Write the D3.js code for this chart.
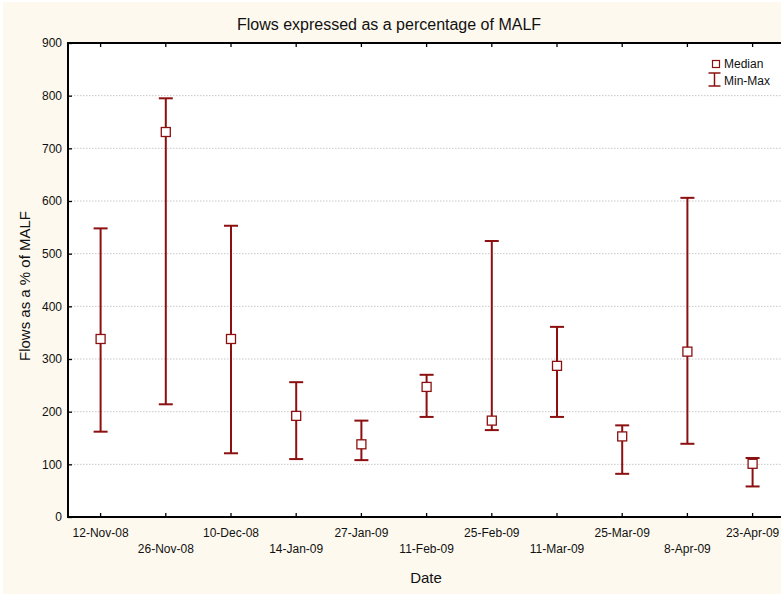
<!DOCTYPE html>
<html><head><meta charset="utf-8">
<script src="https://cdn.jsdelivr.net/npm/d3@7"></script>
<style>body{margin:0;background:#fff}svg{display:block}text{font-family:"Liberation Sans",Arial,sans-serif}</style>
</head><body>
<svg id="chart" width="781" height="594"></svg>
<script>
const dates = ["12-Nov-08","26-Nov-08","10-Dec-08","14-Jan-09","27-Jan-09","11-Feb-09","25-Feb-09","11-Mar-09","25-Mar-09","8-Apr-09","23-Apr-09"];
const medians = [338, 731, 338, 192, 138, 247, 183, 287, 153, 314, 101];
const mins = [162, 214, 121, 110, 108, 190, 165, 190, 82, 139, 58];
const maxs = [548, 795, 553, 256, 183, 270, 524, 361, 174, 606, 112];
const yTicks = [0,100,200,300,400,500,600,700,800,900];

const svg = d3.select("#chart");
const W = 781, H = 594;
const m = {left: 68, top: 43, bottom: 517};
const plotRight = 68 + 11 * 65.2;
const col = "#8c1010";

svg.append("rect").attr("x",3).attr("y",2).attr("width",W-3).attr("height",H-2).attr("fill","#fdf9ee");
svg.append("rect").attr("x",m.left).attr("y",m.top).attr("width",W-m.left).attr("height",m.bottom-m.top).attr("fill","#fff");

const x = d3.scaleBand().domain(dates).range([m.left, plotRight]);
const y = d3.scaleLinear().domain([0,900]).range([m.bottom, m.top]);
const cx = d => x(d) + x.bandwidth()/2;

// grid
svg.append("g").selectAll("line").data(yTicks.filter(t=>t>0&&t<900)).join("line")
  .attr("x1",m.left).attr("x2",W).attr("y1",d=>y(d)).attr("y2",d=>y(d))
  .attr("stroke","#c8c8c8").attr("stroke-width",1).attr("stroke-dasharray","1.5,1.5");

// axes (ticks point inward)
const yAxis = d3.axisLeft(y).tickValues(yTicks).tickSize(-4).tickPadding(6);
const gy = svg.append("g").attr("transform",`translate(${m.left},0)`).call(yAxis);
gy.select(".domain").remove();
gy.selectAll("line").attr("stroke-width",1.3);
gy.selectAll("text").attr("font-size",12).attr("fill","#111");

const xAxis = d3.axisBottom(x).tickSize(-4).tickFormat("");
const gx = svg.append("g").attr("transform",`translate(0,${m.bottom})`).call(xAxis);
gx.select(".domain").remove();
gx.selectAll("line").attr("stroke-width",1.3);
svg.append("g").selectAll("text").data(dates).join("text")
  .attr("x",d=>cx(d)).attr("y",(d,i)=> i%2===0 ? 537 : 553)
  .attr("text-anchor","middle").attr("font-size",12).attr("fill","#111").text(d=>d);

const xTop = d3.axisTop(x).tickSize(-4).tickFormat("");
const gt = svg.append("g").attr("transform",`translate(0,${m.top})`).call(xTop);
gt.select(".domain").remove();
gt.selectAll("line").attr("stroke-width",1.3);

svg.append("line").attr("x1",m.left).attr("x2",W).attr("y1",m.top).attr("y2",m.top).attr("stroke","#000").attr("stroke-width",2);
svg.append("line").attr("x1",m.left).attr("x2",W).attr("y1",m.bottom).attr("y2",m.bottom).attr("stroke","#000").attr("stroke-width",2);
svg.append("line").attr("x1",m.left).attr("x2",m.left).attr("y1",m.top-1).attr("y2",m.bottom+1).attr("stroke","#000").attr("stroke-width",2);

// error bars
const g = svg.append("g");
dates.forEach((d,i)=>{
  const xc = cx(d);
  g.append("line").attr("x1",xc).attr("x2",xc).attr("y1",y(mins[i])).attr("y2",y(maxs[i])).attr("stroke",col).attr("stroke-width",2);
  [mins[i],maxs[i]].forEach(v=>{
    g.append("line").attr("x1",xc-7).attr("x2",xc+7).attr("y1",y(v)).attr("y2",y(v)).attr("stroke",col).attr("stroke-width",2);
  });
  g.append("rect").attr("x",xc-4.5).attr("y",y(medians[i])-4.5).attr("width",9).attr("height",9)
    .attr("fill","#fff").attr("stroke",col).attr("stroke-width",1.3);
});

// titles
svg.append("text").attr("x",389).attr("y",29.5).attr("text-anchor","middle").attr("font-size",16).attr("fill","#111")
  .text("Flows expressed as a percentage of MALF");
svg.append("text").attr("x",426).attr("y",583).attr("text-anchor","middle").attr("font-size",15).attr("fill","#111").text("Date");
svg.append("text").attr("transform","translate(30,286) rotate(-90)").attr("text-anchor","middle").attr("font-size",15).attr("fill","#111")
  .text("Flows as a % of MALF");

// legend
const lg = svg.append("g");
lg.append("rect").attr("x",712.5).attr("y",60.5).attr("width",7).attr("height",7).attr("fill","#fff").attr("stroke",col).attr("stroke-width",1.2);
lg.append("text").attr("x",724).attr("y",68).attr("font-size",12).attr("fill","#111").text("Median");
lg.append("line").attr("x1",714.5).attr("x2",714.5).attr("y1",73).attr("y2",86).attr("stroke",col).attr("stroke-width",1.5);
lg.append("line").attr("x1",708.5).attr("x2",720.5).attr("y1",73).attr("y2",73).attr("stroke",col).attr("stroke-width",1.5);
lg.append("line").attr("x1",708.5).attr("x2",720.5).attr("y1",86).attr("y2",86).attr("stroke",col).attr("stroke-width",1.5);
lg.append("text").attr("x",724).attr("y",85).attr("font-size",12).attr("fill","#111").text("Min-Max");
</script>
</body></html>
